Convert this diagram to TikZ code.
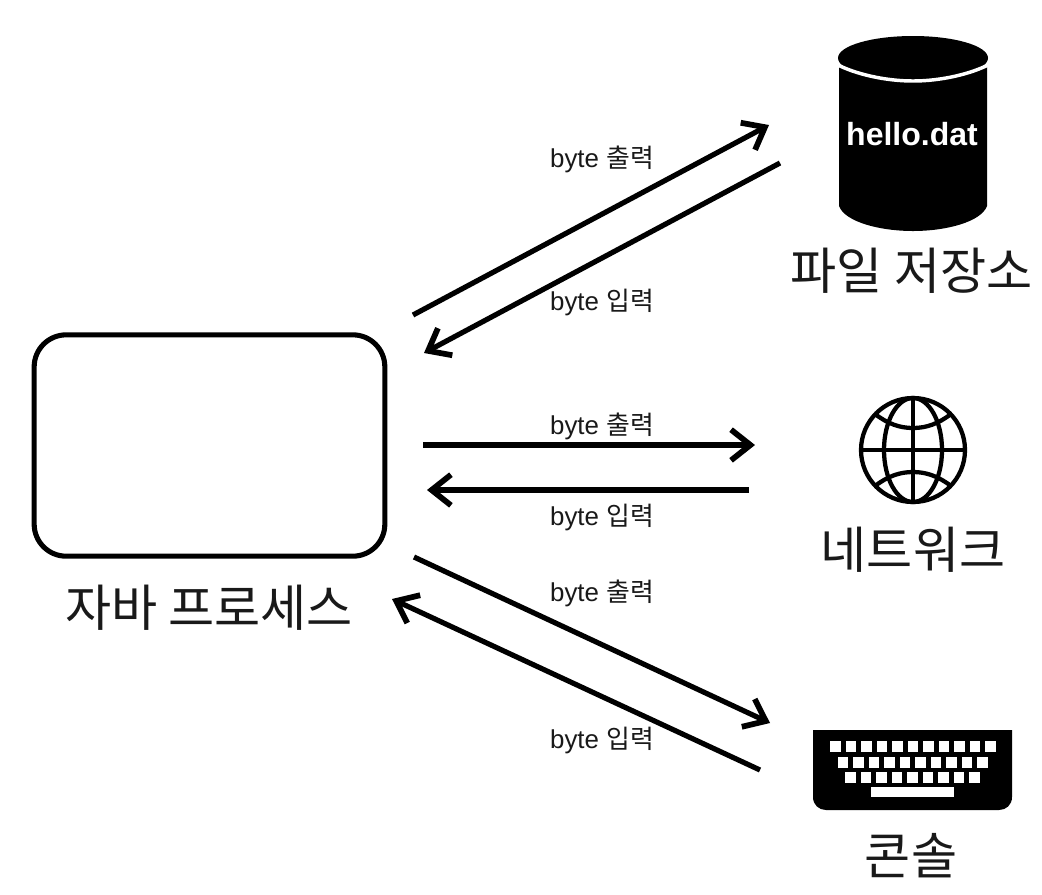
\documentclass[tikz,border=0pt]{standalone}
\usepackage{fontspec}
\setmainfont{Liberation Sans}
\newfontfamily\krfont{Noto Sans CJK KR}
\usetikzlibrary{arrows.meta}
\tikzset{
  x=0.75pt,y=-0.75pt,
  flow/.style={line width=3.9pt,-{Straight Barb[length=14.5pt,width=23pt,line width=4.3pt]}},
  biglabel/.style={font=\krfont\fontsize{37.6}{40}\selectfont,inner sep=0pt,text=black!90},
  smalllabel/.style={font=\fontsize{19.4}{22}\selectfont,inner sep=0pt,text=black!90},
  procbox/.style={draw=black,line width=3.8pt,rounded corners=24pt,fill=white},
  globeline/.style={draw=black,line width=3.2pt},
  keycap/.style={fill=white,draw=none},
}
\newcommand{\bytelabel}[1]{byte {\krfont #1}}
\begin{document}
\begin{tikzpicture}
\useasboundingbox (0,0) rectangle (1042,894);
\fill[white] (0,0) rectangle (1042,894);
% process box
\node[procbox,minimum width=263pt,minimum height=166pt,anchor=center] (proc) at (209.5,445.5) {};
\node[biglabel] (proclabel) at (209,608) {자바 프로세스};
% cylinder
\fill[black] (839,66) -- (839,206) .. controls (845,222) and (880,231) .. (913,231) .. controls (946,231) and (981,222) .. (987,206) -- (987,66) -- cycle;
\fill[black] (913,58) ellipse [x radius=75,y radius=22];
\draw[white,line width=2.6pt] (836,64) .. controls (855,74) and (885,81) .. (913,81) .. controls (941,81) and (971,74) .. (990,64);
\node[font=\fontsize{24}{26}\selectfont\bfseries,text=white,inner sep=0pt] (hello) at (912,134) {hello.dat};
\node[biglabel] (filelabel) at (911.5,271) {파일 저장소};
% globe
\draw[globeline] (913,450) circle [radius=52];
\draw[globeline] (913,450) ellipse [x radius=29,y radius=52];
\draw[globeline] (913,398) -- (913,502);
\draw[globeline] (861,450) -- (965,450);
\draw[globeline] (875,414) .. controls (888,424) and (900,428) .. (913,428) .. controls (926,428) and (938,424) .. (951,414);
\draw[globeline] (875,486) .. controls (888,476) and (900,472) .. (913,472) .. controls (926,472) and (938,476) .. (951,486);
\node[biglabel] (netlabel) at (913,550) {네트워크};
% keyboard
\fill[black] (813,730) -- (1012,730) -- (1012,797) .. controls (1012,805) and (1006,810) .. (999,810) -- (826,810) .. controls (819,810) and (813,805) .. (813,797) -- cycle;
\foreach \i in {0,...,10} \fill[keycap] ({830+15.5*\i},741) rectangle ++(10.5,11);
\foreach \i in {0,...,9} \fill[keycap] ({837.7+15.5*\i},757) rectangle ++(10.5,10.5);
\foreach \i in {0,...,8} \fill[keycap] ({845.3+15.5*\i},772) rectangle ++(10.5,10.5);
\fill[keycap] (871,787) rectangle (954,797);
\node[biglabel] (conlabel) at (911,856) {콘솔};
% connector ends
\coordinate (a1) at (413,315); \coordinate (b1) at (769,125);
\coordinate (a2) at (780,163); \coordinate (b2) at (424,353);
\coordinate (a3) at (423,445); \coordinate (b3) at (755,445);
\coordinate (a4) at (749,490); \coordinate (b4) at (427,490);
\coordinate (a5) at (414,557); \coordinate (b5) at (770,723);
\coordinate (a6) at (760,770); \coordinate (b6) at (392,599);
\draw[flow] (a1) -- (b1);
\draw[flow] (a2) -- (b2);
\draw[flow] (a3) -- (b3);
\draw[flow] (a4) -- (b4);
\draw[flow] (a5) -- (b5);
\draw[flow] (a6) -- (b6);
% labels
\node[smalllabel] (l1) at (602,159) {\bytelabel{출력}};
\node[smalllabel] (l2) at (602,302) {\bytelabel{입력}};
\node[smalllabel] (l3) at (602,426) {\bytelabel{출력}};
\node[smalllabel] (l4) at (602,517) {\bytelabel{입력}};
\node[smalllabel] (l5) at (602,593) {\bytelabel{출력}};
\node[smalllabel] (l6) at (602,740) {\bytelabel{입력}};
\end{tikzpicture}
\end{document}
